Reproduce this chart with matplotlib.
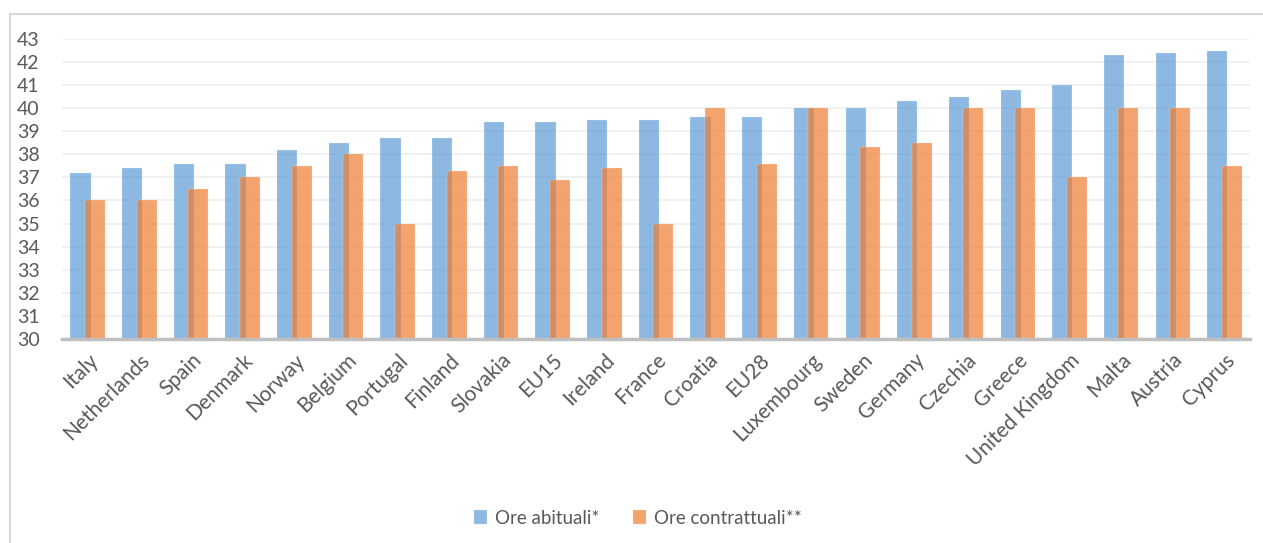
import numpy as np
import matplotlib
matplotlib.use("Agg")
import matplotlib.pyplot as plt
from matplotlib.lines import Line2D

countries = ["Italy", "Netherlands", "Spain", "Denmark", "Norway", "Belgium",
             "Portugal", "Finland", "Slovakia", "EU15", "Ireland", "France",
             "Croatia", "EU28", "Luxembourg", "Sweden", "Germany", "Czechia",
             "Greece", "United Kingdom", "Malta", "Austria", "Cyprus"]
ore_abituali = [37.2, 37.4, 37.6, 37.6, 38.2, 38.5, 38.7, 38.7, 39.4, 39.4,
                39.5, 39.5, 39.6, 39.6, 40.0, 40.0, 40.3, 40.5, 40.8, 41.0,
                42.3, 42.4, 42.5]
ore_contrattuali = [36.0, 36.0, 36.5, 37.0, 37.5, 38.0, 35.0, 37.3, 37.5, 36.9,
                    37.4, 35.0, 40.0, 37.6, 40.0, 38.3, 38.5, 40.0, 40.0, 37.0,
                    40.0, 40.0, 37.5]

plt.rcParams["font.family"] = ["Lato", "DejaVu Sans"]
text_col = "#595959"

fig = plt.figure(figsize=(12.63, 5.43), dpi=100)
ax = fig.add_axes([0.049, 0.376, 0.941, 0.552])

x = np.arange(len(countries))
w = 0.39
ax.bar(x - 0.14, np.array(ore_abituali) - 30, w, bottom=30, color="#5B9BD5",
       alpha=0.7, edgecolor="#E3EEF8", linewidth=0.3, zorder=2,
       label="Ore abituali*")
ax.bar(x + 0.14, np.array(ore_contrattuali) - 30, w, bottom=30, color="#ED7D31",
       alpha=0.7, edgecolor="#FBE2D1", linewidth=0.3, zorder=3,
       label="Ore contrattuali**")

ax.set_xlim(-0.5, len(countries) - 0.5)
ax.set_ylim(30, 43)
ax.set_yticks(range(30, 44))
ax.yaxis.grid(True, color="#EFEFEF", linewidth=1.2, zorder=0)
ax.set_axisbelow(True)
for s in ["top", "right", "left"]:
    ax.spines[s].set_visible(False)
ax.spines["bottom"].set_color("#BFBFBF")
ax.spines["bottom"].set_linewidth(2.5)
ax.spines["bottom"].set_zorder(4)

ax.set_xticks(x)
ax.set_xticklabels(countries, rotation=45, ha="right", rotation_mode="anchor",
                   fontsize=15, color=text_col)
ax.tick_params(axis="x", length=0, pad=8)
ax.tick_params(axis="y", length=0, labelsize=14, labelcolor=text_col, pad=16)

leg = fig.legend(loc="center", bbox_to_anchor=(0.505, 0.046), ncol=2, frameon=False,
                 fontsize=13.5, labelcolor=text_col, handlelength=0.7,
                 handleheight=0.7, columnspacing=1.8, handletextpad=0.4)

# light chart-area border
fig.add_artist(Line2D([0.0079, 0.0079], [0.0, 0.974], transform=fig.transFigure,
                      color="#D9D9D9", linewidth=1.5))
fig.add_artist(Line2D([0.0079, 1.0], [0.974, 0.974], transform=fig.transFigure,
                      color="#D9D9D9", linewidth=1.5))

fig.savefig("out.png", dpi=100)
